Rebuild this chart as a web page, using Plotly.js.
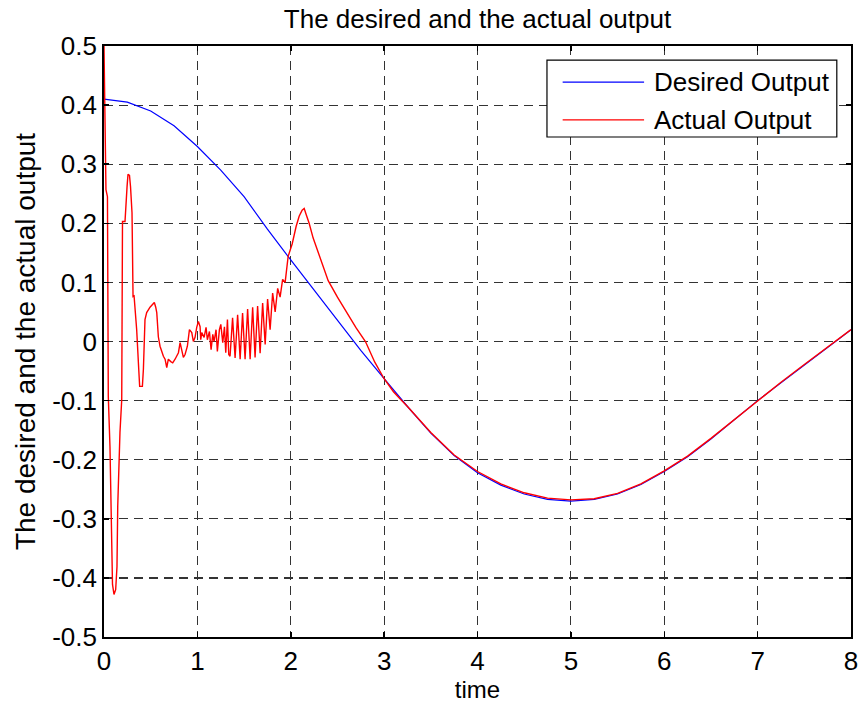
<!DOCTYPE html>
<html>
<head>
<meta charset="utf-8">
<script src="https://cdn.plot.ly/plotly-3.0.1.min.js"></script>
<style>html,body{margin:0;padding:0;background:#fff;}#chart{width:861px;height:710px;}</style>
</head>
<body>
<div id="chart"></div>
<script>
// Desired output (blue)
const desiredTime = [0, 0.25, 0.5, 0.75, 1.0, 1.25, 1.5, 1.75, 2.0, 2.25, 2.5, 2.75, 3.0, 3.25, 3.5, 3.75, 4.0, 4.25, 4.5, 4.75, 5.0, 5.25, 5.5, 5.75, 6.0, 6.25, 6.5, 6.75, 7.0, 7.25, 7.5, 7.75, 8.0];
const desiredValue = [0.41, 0.405, 0.39, 0.365, 0.33, 0.29, 0.245, 0.19, 0.138, 0.087, 0.035, -0.015, -0.063, -0.11, -0.155, -0.193, -0.222, -0.243, -0.258, -0.267, -0.27, -0.267, -0.258, -0.242, -0.22, -0.195, -0.165, -0.133, -0.10, -0.07, -0.04, -0.01, 0.02];

// Actual output (red)
const actualTime = [0, 0.021, 0.037, 0.046, 0.064, 0.083, 0.091, 0.107, 0.125, 0.139, 0.147, 0.171, 0.190, 0.198, 0.225, 0.247, 0.257, 0.273, 0.284, 0.300, 0.311, 0.322, 0.350, 0.372, 0.382, 0.411, 0.422, 0.439, 0.457, 0.493, 0.539, 0.554, 0.565, 0.582, 0.600, 0.636, 0.654, 0.672, 0.689, 0.715, 0.736, 0.761, 0.797, 0.815, 0.832, 0.850, 0.868, 0.893, 0.915, 0.940, 0.957, 0.975, 0.993, 1.011, 1.029, 1.036, 1.047, 1.072, 1.093, 1.107, 1.129, 1.147, 1.165, 1.179, 1.200, 1.214, 1.236, 1.251, 1.272, 1.290, 1.304, 1.322, 1.336, 1.350, 1.377, 1.404, 1.431, 1.458, 1.484, 1.511, 1.538, 1.565, 1.592, 1.618, 1.645, 1.672, 1.699, 1.726, 1.752, 1.779, 1.806, 1.833, 1.860, 1.886, 1.913, 1.940, 1.972, 2.015, 2.058, 2.090, 2.122, 2.144, 2.165, 2.197, 2.240, 2.294, 2.347, 2.401, 2.5, 2.6, 2.7, 2.8, 2.9, 3.0, 3.1, 3.17, 3.25, 3.5, 3.75, 4.0, 4.25, 4.5, 4.75, 5.0, 5.25, 5.5, 5.75, 6.0, 6.25, 6.5, 6.75, 7.0, 7.25, 7.5, 7.75, 8.0];
const actualValue = [0.5, 0.257, 0.245, -0.093, -0.178, -0.323, -0.411, -0.428, -0.420, -0.381, -0.279, -0.154, -0.098, 0.203, 0.203, 0.262, 0.283, 0.281, 0.262, 0.218, 0.076, 0.077, 0.020, -0.047, -0.076, -0.076, -0.047, 0.037, 0.049, 0.058, 0.066, 0.058, 0.049, 0.008, -0.008, -0.025, -0.030, -0.044, -0.030, -0.034, -0.036, -0.030, -0.019, -0.002, -0.014, -0.027, -0.022, -0.008, 0.020, 0.015, 0.000, 0.007, 0.024, 0.034, 0.025, 0.003, 0.015, 0.007, 0.024, 0.003, 0.017, -0.014, 0.012, 0.000, 0.020, -0.017, 0.020, 0.029, -0.002, 0.025, -0.019, 0.037, -0.022, -0.025, 0.040, -0.028, 0.045, -0.030, 0.048, -0.030, 0.055, -0.030, 0.058, -0.027, 0.060, -0.020, 0.065, -0.005, 0.072, 0.020, 0.082, 0.050, 0.090, 0.075, 0.105, 0.100, 0.144, 0.165, 0.195, 0.212, 0.222, 0.225, 0.215, 0.200, 0.175, 0.150, 0.125, 0.103, 0.075, 0.048, 0.023, 0.000, -0.035, -0.063, -0.085, -0.097, -0.110, -0.154, -0.192, -0.220, -0.241, -0.256, -0.265, -0.268, -0.266, -0.257, -0.241, -0.219, -0.194, -0.164, -0.132, -0.10, -0.069, -0.039, -0.009, 0.02];

// Tick labels
const xTickVals = [0, 1, 2, 3, 4, 5, 6, 7, 8];
const xTickText = ['0', '1', '2', '3', '4', '5', '6', '7', '8'];
const yTickVals = [-0.5, -0.4, -0.3, -0.2, -0.1, 0, 0.1, 0.2, 0.3, 0.4, 0.5];
const yTickText = ['-0.5', '-0.4', '-0.3', '-0.2', '-0.1', '0', '0.1', '0.2', '0.3', '0.4', '0.5'];

const seriesNames = ['Desired Output', 'Actual Output'];
const FONT = 'Liberation Sans, Arial, sans-serif';

const traces = [
  {x: desiredTime, y: desiredValue, type: 'scatter', mode: 'lines', name: seriesNames[0],
   line: {color: '#0000ff', width: 1.2}, showlegend: false},
  {x: actualTime, y: actualValue, type: 'scatter', mode: 'lines', name: seriesNames[1],
   line: {color: '#ff0000', width: 1.4}, showlegend: false}
];

const axisCommon = {
  showline: true, linecolor: '#000', linewidth: 1.8, mirror: 'allticks',
  ticks: 'inside', ticklen: 5, tickcolor: '#000', tickwidth: 1.5,
  showgrid: true, gridcolor: '#333', gridwidth: 1.2, griddash: '9px,6px',
  zeroline: false, tickfont: {family: FONT, size: 26, color: '#000'}
};

const layout = {
  width: 861, height: 710,
  margin: {l: 104, r: 10, t: 46, b: 73},
  paper_bgcolor: '#fff', plot_bgcolor: '#fff',
  title: {text: 'The desired and the actual output', font: {family: FONT, size: 26, color: '#000'},
          x: 0.5, xref: 'paper', xanchor: 'center', y: 1 - 19/710, yref: 'container', yanchor: 'middle'},
  xaxis: Object.assign({}, axisCommon, {
    range: [0, 8], tickvals: xTickVals, ticktext: xTickText,
    title: {text: 'time', font: {family: FONT, size: 24, color: '#000'}, standoff: 2}
  }),
  yaxis: Object.assign({}, axisCommon, {
    range: [-0.5, 0.5], tickvals: yTickVals, ticktext: yTickText,
    title: {text: 'The desired and the actual output', font: {family: FONT, size: 28, color: '#000'}, standoff: 8}
  }),
  shapes: [
    {type: 'rect', xref: 'paper', yref: 'paper', x0: 0.593, x1: 0.981, y0: 0.846, y1: 0.976,
     line: {color: '#000', width: 1.2}, fillcolor: '#fff', layer: 'above'},
    {type: 'line', xref: 'paper', yref: 'paper', x0: 0.614, x1: 0.723, y0: 0.939, y1: 0.939,
     line: {color: '#0000ff', width: 1.2}, layer: 'above'},
    {type: 'line', xref: 'paper', yref: 'paper', x0: 0.614, x1: 0.723, y0: 0.875, y1: 0.875,
     line: {color: '#ff0000', width: 1.4}, layer: 'above'}
  ],
  annotations: [
    {xref: 'paper', yref: 'paper', x: 0.733, y: 0.939, xanchor: 'left', yanchor: 'middle', showarrow: false,
     text: seriesNames[0], font: {family: FONT, size: 26, color: '#000'}},
    {xref: 'paper', yref: 'paper', x: 0.733, y: 0.875, xanchor: 'left', yanchor: 'middle', showarrow: false,
     text: seriesNames[1], font: {family: FONT, size: 26, color: '#000'}}
  ]
};

Plotly.newPlot('chart', traces, layout, {displayModeBar: false, staticPlot: true});
</script>
</body>
</html>
